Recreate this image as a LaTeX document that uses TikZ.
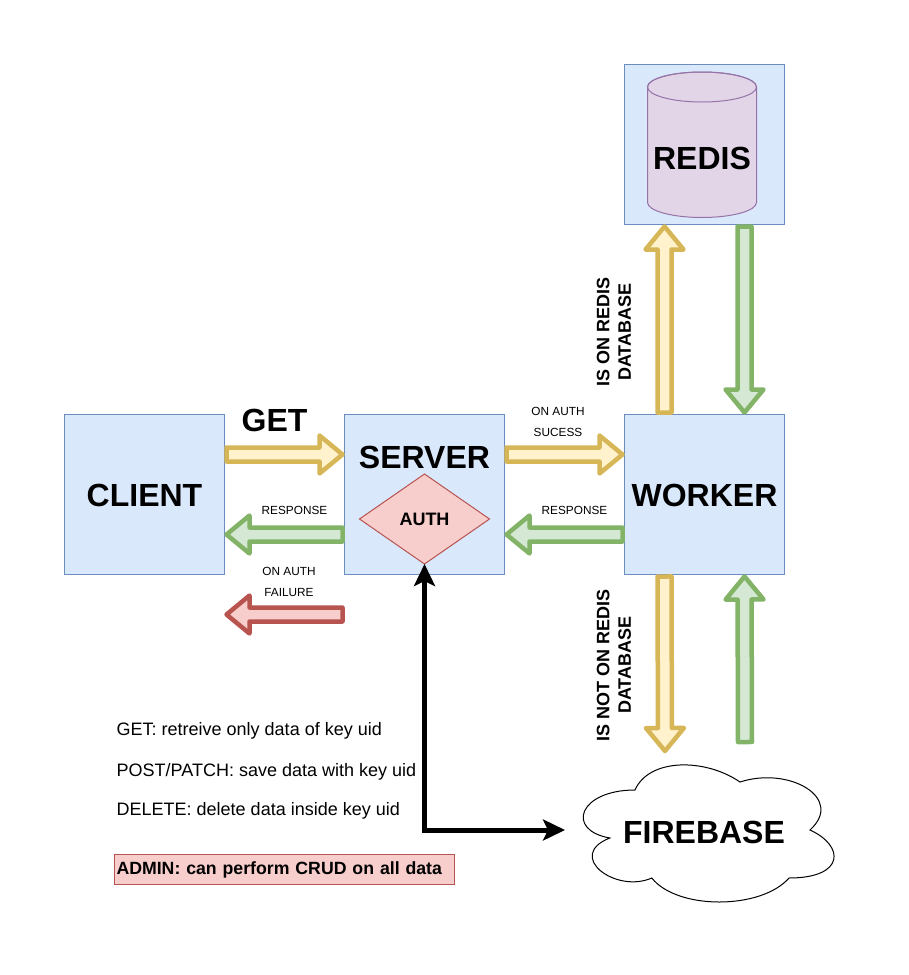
\documentclass[tikz,border=0pt]{standalone}
\usepackage{fontspec}
\setmainfont{Liberation Sans}
\usetikzlibrary{calc,arrows.meta,shapes.geometric}
\definecolor{boxfill}{HTML}{DAE8FC}
\definecolor{boxline}{HTML}{6C8EBF}
\definecolor{dbfill}{HTML}{E1D5E7}
\definecolor{dbline}{HTML}{9673A6}
\definecolor{askfill}{HTML}{FFF2CC}
\definecolor{askline}{HTML}{D6B656}
\definecolor{replyfill}{HTML}{D5E8D4}
\definecolor{replyline}{HTML}{82B366}
\definecolor{failfill}{HTML}{F8CECC}
\definecolor{failline}{HTML}{B85450}
\tikzset{
    bigtext/.style={inner sep=0pt, font=\fontsize{32}{36}\selectfont\bfseries},
    smalltext/.style={inner sep=0pt, align=center, font=\fontsize{11.8}{21}\selectfont},
    sidetext/.style={inner sep=0pt, align=center, rotate=90, font=\fontsize{18}{21.5}\selectfont\bfseries},
    notetext/.style={inner sep=0pt, anchor=base west, font=\fontsize{18}{21}\selectfont},
    box/.style={draw=boxline, line width=1pt, fill=boxfill, minimum size=160pt, outer sep=0pt, inner sep=0pt},
    blockarrow/.style={line width=4.5pt, line join=round, to path={
        let \p1=($(\tikztostart)!2pt!(\tikztotarget)$),
            \p2=($(\tikztotarget)!2pt!(\tikztostart)$),
            \p3=($(\tikztotarget)!25pt!(\tikztostart)$) in
        ($(\p1)!7pt!90:(\p2)$) -- ($(\p3)!7pt!90:(\p2)$) -- ($(\p3)!19pt!90:(\p2)$) -- (\p2)
        -- ($(\p3)!19pt!-90:(\p2)$) -- ($(\p3)!7pt!-90:(\p2)$) -- ($(\p1)!7pt!-90:(\p2)$) -- cycle}},
    askarrow/.style={blockarrow, draw=askline, fill=askfill},
    replyarrow/.style={blockarrow, draw=replyline, fill=replyfill},
    failarrow/.style={blockarrow, draw=failline, fill=failfill}
}

\begin{document}
\begin{tikzpicture}[x=1pt, y=-1pt]
    \useasboundingbox (0, 0) rectangle (909, 975);

    \foreach \name / \x / \y in {client/144.5/494.5, server/424.5/494.5, worker/704.5/494.5, redis/704.5/144.5}
        \node[box] (\name) at (\x, \y) {};

    \node[draw=failline, line width=1pt, fill=failfill, minimum width=130pt, minimum height=90pt, inner sep=0pt, outer sep=0pt, diamond,
        font=\fontsize{18}{21}\selectfont\bfseries] (auth) at (424.5, 519) {AUTH};

    \draw[draw=dbline, line width=1pt, fill=dbfill] (647.5, 87) -- (647.5, 202.5)
        arc[start angle=180, end angle=0, x radius=54.5, y radius=15] -- (756.5, 87)
        arc[start angle=0, end angle=-180, x radius=54.5, y radius=15] -- cycle;
    \draw[draw=dbline, line width=1pt] (702, 87) ellipse [x radius=54.5, y radius=15];

    \begin{scope}[shift={(565, 750)}, x=2.8pt, y=-1.6pt]
        \draw[line width=1pt, fill=white] (25, 25) .. controls (5, 25) and (0, 50) .. (16, 55)
            .. controls (0, 66) and (18, 90) .. (31, 80)
            .. controls (40, 100) and (70, 100) .. (80, 80)
            .. controls (100, 80) and (100, 60) .. (87.5, 50)
            .. controls (100, 30) and (80, 10) .. (62.5, 20)
            .. controls (50, 5) and (30, 5) .. (25, 25) -- cycle;
    \end{scope}
    \node[minimum width=280pt, minimum height=160pt, inner sep=0pt, outer sep=0pt] (firebase) at (705, 830) {};

    \foreach \name / \x / \y / \txt in {clienttext/144.5/495/CLIENT, servertext/424.5/457/SERVER, workertext/704.5/495/WORKER,
        redistext/702/158/REDIS, firebasetext/704/832/FIREBASE, gettext/274.5/420/GET}
        \node[bigtext] (\name) at (\x, \y) {\txt};

    \draw[askarrow] ([yshift=40pt]client.east) to ([yshift=40pt]server.west);
    \draw[replyarrow] ([yshift=-40pt]server.west) to ([yshift=-40pt]client.east);
    \draw[askarrow] ([yshift=40pt]server.east) to ([yshift=40pt]worker.west);
    \draw[replyarrow] ([yshift=-40pt]worker.west) to ([yshift=-40pt]server.east);

    \coordinate (failstart) at (344.5, 614.5);
    \coordinate (failend) at (224.5, 614.5);
    \draw[failarrow] (failstart) to (failend);

    \draw[askarrow] ([xshift=-40pt]worker.north) to ([xshift=-40pt]redis.south);
    \draw[replyarrow] ([xshift=40pt]redis.south) to ([xshift=40pt]worker.north);
    \draw[askarrow] ([xshift=-40pt]worker.south) to ([xshift=-40pt, yshift=-3pt]firebase.north);
    \draw[replyarrow] ([xshift=40pt, yshift=6pt]firebase.north) to ([xshift=40pt]worker.south);

    \draw[line width=5pt, {Stealth[length=22pt, width=21pt, inset=5pt]}-{Stealth[length=22pt, width=21pt, inset=5pt]}]
        (auth.south) |- (firebase.west);

    \foreach \name / \x / \y / \txt in {respleft/294.5/510.5/RESPONSE, respright/574.5/510.5/RESPONSE,
        failtext/289/581.5/{ON AUTH\\FAILURE}, okaytext/558/421.5/{ON AUTH\\SUCESS}}
        \node[smalltext] (\name) at (\x, \y) {\txt};

    \node[sidetext] (onredis) at (614, 332) {IS ON REDIS\\DATABASE};
    \node[sidetext] (notredis) at (614, 665) {IS NOT ON REDIS\\DATABASE};

    \foreach \name / \y / \txt in {getnote/735/{GET: retreive only data of key uid}, postnote/776.5/{POST/PATCH: save data with key uid},
        deletenote/815/{DELETE: delete data inside key uid}}
        \node[notetext] (\name) at (116.5, \y) {\txt};

    \node[draw=failline, line width=1pt, fill=failfill, minimum width=340pt, minimum height=30pt, inner sep=2pt, outer sep=0pt, text width=336pt,
        align=left, font=\fontsize{17.7}{21}\selectfont\bfseries] (admin) at (284.5, 869.5) {ADMIN: can perform CRUD on all data};
\end{tikzpicture}
\end{document}
